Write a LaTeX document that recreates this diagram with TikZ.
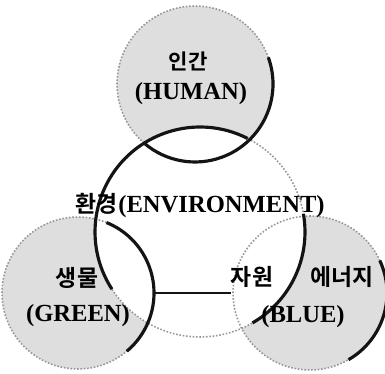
\documentclass[tikz,border=0pt]{standalone}
\usepackage{fontspec}
\setmainfont{Liberation Serif}
\newfontfamily\krfont{Noto Sans CJK KR Bold}
\usetikzlibrary{positioning}
\definecolor{ink}{RGB}{20,20,20}
\definecolor{dotgray}{RGB}{150,150,150}
\definecolor{shade}{RGB}{222,222,222}
\tikzset{
  disc/.style={circle, fill=shade, inner sep=0pt, outer sep=0pt},
  core/.style={circle, fill=white, inner sep=0pt, outer sep=0pt},
  rim/.style={draw=ink, line width=1.8pt},
  dotrim/.style={draw=dotgray, densely dotted, line width=0.9pt},
  lat/.style={font=\bfseries\fontsize{14}{16}\selectfont, inner sep=0pt},
  kor/.style={font=\krfont\fontsize{13}{15}\selectfont, inner sep=0pt},
  link/.style={draw=ink, line width=1pt}
}
\begin{document}
\begin{tikzpicture}[x=0.02cm, y=-0.02cm]
  \useasboundingbox (0,0) rectangle (385,374);
  % circles
  \node[disc, minimum size=3.12cm] (human) at (195,84) {};
  \node[disc, minimum size=3.04cm] (green) at (78,293) {};
  \node[disc, minimum size=3.08cm] (blue) at (310,293) {};
  \node[core, minimum size=4.2cm] (env) at (200,232) {};
  % outlines
  \foreach \c/\r in {human/1.56, green/1.52, blue/1.54, env/2.1}
    \draw[dotrim] (\c.center) circle[radius=\r cm];
  \draw[rim] (human.20) arc[start angle=20, end angle=-130, radius=1.56cm];
  \draw[rim] (green.68) arc[start angle=68, end angle=-50, radius=1.52cm];
  \draw[rim] (blue.25) arc[start angle=25, end angle=-60, radius=1.54cm];
  \draw[rim] (env.63) arc[start angle=63, end angle=213, radius=2.1cm];
  \draw[rim] (env.-60) arc[start angle=-60, end angle=10, radius=2.1cm];
  % labels
  \node[kor, font=\krfont\fontsize{12}{14}\selectfont] (ingan) at (188,61) {인간};
  \node[lat] (humanlbl) at (191,94) {(HUMAN)};
  \node[lat, anchor=west] (envlbl) at (118,207) {(ENVIRONMENT)};
  \node[kor, anchor=base east] (hwangyeong) at (envlbl.base west) {환경};
  \node[kor] (saengmul) at (77,278) {생물};
  \node[lat] (greenlbl) at (78,316) {(GREEN)};
  \node[kor] (jawon) at (252,277) {자원};
  \node[kor] (eneoji) at (342,277) {에너지};
  \node[lat] (bluelbl) at (303,317) {(BLUE)};
  \draw[link] (green.east) -- (green.east -| jawon.west);
\end{tikzpicture}
\end{document}
